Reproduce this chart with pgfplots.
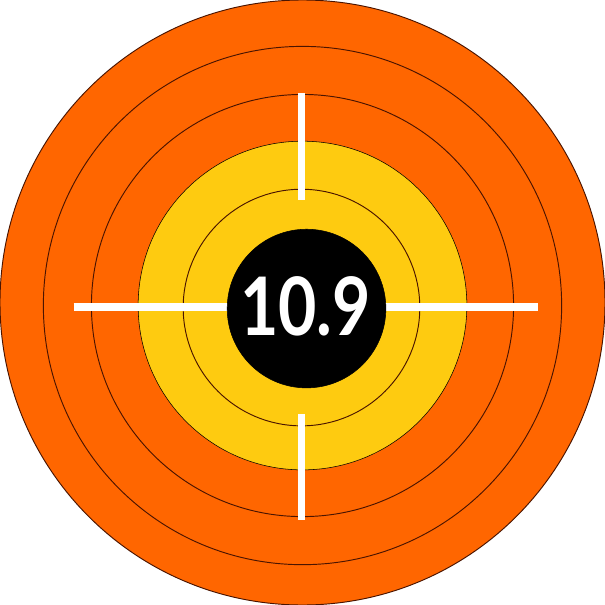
\documentclass[border=0pt]{standalone}
\usepackage{pgfplots}
\pgfplotsset{compat=1.18}
\usepackage{fontspec}
\setmainfont{Lato}
\definecolor{orangeC}{HTML}{FF6600}
\definecolor{yellowC}{HTML}{FECB10}
\definecolor{ringC}{HTML}{4A1400}
\begin{document}
\begin{tikzpicture}
\begin{axis}[
  width=453.75pt, height=453.75pt, scale only axis,
  xmin=0, xmax=605, ymin=0, ymax=605, y dir=reverse,
  hide axis, clip=false, clip marker paths=true
]
% rings: radius in px -> mark size = 0.75pt per px
\addplot[only marks, mark=*, mark size=225pt, mark options={fill=orangeC, draw=ringC, line width=0.7pt}] coordinates {(302,302)};
\addplot[only marks, mark=o, mark size=192.75pt, mark options={draw=ringC, line width=0.7pt}] coordinates {(302,305)};
\addplot[only marks, mark=o, mark size=157pt, mark options={draw=ringC, line width=0.7pt}] coordinates {(302,305)};
\addplot[only marks, mark=*, mark size=122.25pt, mark options={fill=yellowC, draw=none}] coordinates {(302,305)};
\addplot[only marks, mark=o, mark size=88pt, mark options={draw=ringC, line width=0.7pt}] coordinates {(301,307)};
% crosshair
\addplot[white, line width=6pt, line cap=butt] coordinates {(75,306) (536,306)};
\addplot[white, line width=5.5pt, line cap=butt] coordinates {(301,94) (301,200)};
\addplot[white, line width=5.5pt, line cap=butt] coordinates {(301,413) (301,518)};
% bull
\addplot[only marks, mark=*, mark size=59pt, mark options={fill=black, draw=none}] coordinates {(306,308)};
\node[white, font=\fontsize{60}{62}\selectfont\bfseries] at (axis cs:305,306) {\scalebox{0.82}[1]{10.9}};
\end{axis}
\end{tikzpicture}
\end{document}
